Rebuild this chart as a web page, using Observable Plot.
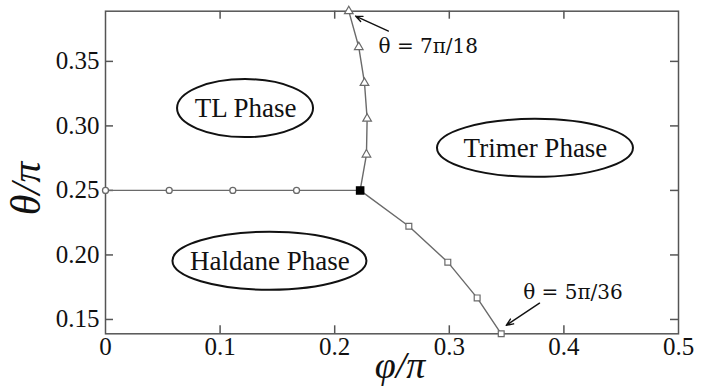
<!DOCTYPE html>
<html><head><meta charset="utf-8">
<script src="https://cdn.jsdelivr.net/npm/d3@7"></script>
<script src="https://cdn.jsdelivr.net/npm/@observablehq/plot@0.6"></script>
<style>body{margin:0;background:#fff} #chart svg{display:block}</style>
</head><body><div id="chart"></div>
<script>
// Haldane / TL boundary (circles) at theta = pi/4
const circlePhi = [0, 0.0556, 0.1111, 0.1667];
const circleTheta = [0.25, 0.25, 0.25, 0.25];
// triple point
const triplePhi = [0.2222];
const tripleTheta = [0.25];
// TL / Trimer boundary (triangles)
const tlPhi = [0.2277, 0.2283, 0.2260, 0.2210, 0.2123];
const tlTheta = [0.2778, 0.3056, 0.3333, 0.3611, 0.3889];
// Haldane / Trimer boundary (squares)
const trPhi = [0.2647, 0.2987, 0.3243, 0.3453];
const trTheta = [0.2222, 0.1944, 0.1667, 0.1389];
// phase labels
const phaseNames = ["TL Phase", "Trimer Phase", "Haldane Phase"];
const phasePhi = [0.1222, 0.3752, 0.1435];
const phaseTheta = [0.3134, 0.2826, 0.1951];
// annotations
const annText = ["θ = 7π/18", "θ = 5π/36"];
const annPhi = [0.2382, 0.3645];
const annTheta = [0.3612, 0.1711];
const arrowFromPhi = [0.2469, 0.3787];
const arrowFromTheta = [0.3735, 0.1626];
const arrowToPhi = [0.2182, 0.3497];
const arrowToTheta = [0.3851, 0.1455];
// ticks
const xTicks = [0, 0.1, 0.2, 0.3, 0.4, 0.5];
const xTickLabels = ["0", "0.1", "0.2", "0.3", "0.4", "0.5"];
const yTicks = [0.15, 0.20, 0.25, 0.30, 0.35];
const yTickLabels = ["0.15", "0.20", "0.25", "0.30", "0.35"];

// style constants
const ellipseRx = [68, 98, 97];
const ellipseRy = 29;
const W = 706, H = 390;
const mT = 10.7, mB = 56.7, mL = 105, mR = 28;
const innerH = H - mT - mB, innerW = W - mL - mR;
const tickLen = 8;
const lineColor = "#6a6a6a";
const frameColor = "#555";

const zip = (xs, ys) => xs.map((x, i) => ({x, y: ys[i]}));
const circles = zip(circlePhi, circleTheta);
const triple = zip(triplePhi, tripleTheta);
const tl = zip(tlPhi, tlTheta);
const tr = zip(trPhi, trTheta);
const line1 = [...circles, ...triple];
const line2 = [...triple, ...tl];
const line3 = [...triple, ...tr];
const phases = phaseNames.map((n, i) => ({name: n, x: phasePhi[i], y: phaseTheta[i], rx: ellipseRx[i]}));
const anns = annText.map((t, i) => ({t, x: annPhi[i], y: annTheta[i]}));
const arrows = arrowFromPhi.map((_, i) => ({x1: arrowFromPhi[i], y1: arrowFromTheta[i], x2: arrowToPhi[i], y2: arrowToTheta[i]}));

const serif = "Liberation Serif";

function ellipseMark(index, scales) {
  const g = d3.create("svg:g");
  g.selectAll("ellipse").data(phases).join("ellipse")
    .attr("cx", d => scales.x(d.x))
    .attr("cy", d => scales.y(d.y))
    .attr("rx", d => d.rx)
    .attr("ry", ellipseRy)
    .attr("fill", "none")
    .attr("stroke", "#111")
    .attr("stroke-width", 2);
  return g.node();
}

const chart = Plot.plot({
  width: W, height: H,
  marginTop: mT, marginBottom: mB, marginLeft: mL, marginRight: mR,
  style: "font-family: 'Liberation Serif', serif; font-size: 25px; color: #111; background: #fff;",
  x: {domain: [0, 0.5]},
  y: {domain: [5/36, 7/18]},
  marks: [
    Plot.frame({stroke: frameColor, strokeWidth: 1.5}),
    // inward ticks
    Plot.tickX(xTicks.slice(1, -1), {x: d => d, insetTop: innerH - tickLen, stroke: frameColor, strokeWidth: 1.5}),
    Plot.tickX(xTicks.slice(1, -1), {x: d => d, insetBottom: innerH - tickLen, stroke: frameColor, strokeWidth: 1.5}),
    Plot.tickY(yTicks, {y: d => d, insetRight: innerW - tickLen, stroke: frameColor, strokeWidth: 1.5}),
    Plot.tickY(yTicks, {y: d => d, insetLeft: innerW - tickLen, stroke: frameColor, strokeWidth: 1.5}),
    Plot.axisX({ticks: xTicks, tickSize: 0, tickPadding: 3, tickFormat: (d, i) => xTickLabels[i], label: null, fontSize: 25, fontFamily: serif}),
    Plot.axisY({ticks: yTicks, tickSize: 0, tickPadding: 6, tickFormat: (d, i) => yTickLabels[i], label: null, fontSize: 25, fontFamily: serif}),
    // boundaries
    Plot.line(line1, {x: "x", y: "y", stroke: lineColor, strokeWidth: 1.4}),
    Plot.line(line2, {x: "x", y: "y", stroke: lineColor, strokeWidth: 1.4}),
    Plot.line(line3, {x: "x", y: "y", stroke: lineColor, strokeWidth: 1.4}),
    Plot.dot(circles, {x: "x", y: "y", r: 3, stroke: lineColor, fill: "white", strokeWidth: 1.3}),
    Plot.dot(tl, {x: "x", y: "y", r: 3.2, symbol: "triangle", stroke: lineColor, fill: "white", strokeWidth: 1.2}),
    Plot.dot(tr, {x: "x", y: "y", r: 3.3, symbol: "square", stroke: lineColor, fill: "white", strokeWidth: 1.2}),
    Plot.dot(triple, {x: "x", y: "y", r: 4, symbol: "square", fill: "#000", stroke: "#000"}),
    // phase labels
    ellipseMark,
    Plot.text(phases, {x: "x", y: "y", text: "name", fontSize: 27, fontFamily: serif, fill: "#111"}),
    // annotations
    Plot.arrow(arrows, {x1: "x1", y1: "y1", x2: "x2", y2: "y2", stroke: "#111", strokeWidth: 1.4, headLength: 8, headAngle: 45}),
    Plot.text(anns, {x: "x", y: "y", text: "t", textAnchor: "start", fontSize: 20, fontFamily: "DejaVu Serif", fill: "#111"}),
    // axis titles
    Plot.text(["φ/π"], {frameAnchor: "bottom", textAnchor: "middle", lineAnchor: "middle", dy: 32, dx: 8, fontSize: 38, fontFamily: serif, fontStyle: "italic", fill: "#111"}),
    Plot.text(["θ/π"], {frameAnchor: "left", textAnchor: "middle", lineAnchor: "middle", dx: -79, dy: 16, rotate: -90, fontSize: 42, fontFamily: serif, fontStyle: "italic", fill: "#111"})
  ]
});
document.getElementById("chart").append(chart);
</script>
</body></html>
